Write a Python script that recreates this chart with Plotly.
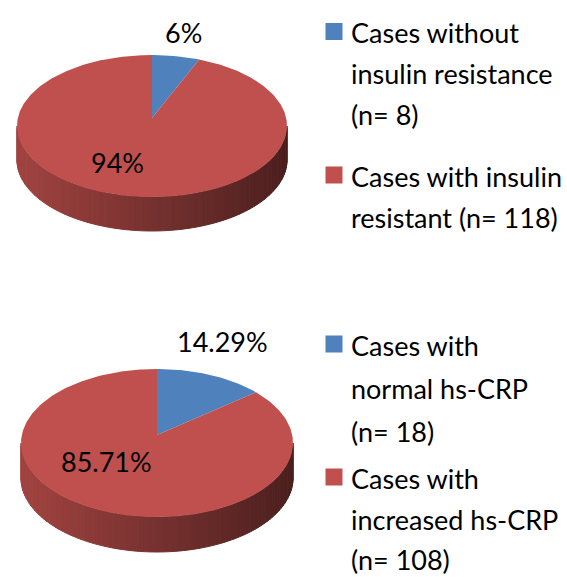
import math
import cmath
import plotly.graph_objects as go

# ---------------- data ----------------
top_values = [8, 118]
top_legend = [["Cases without", "insulin resistance", "(n= 8)"],
              ["Cases with insulin", "resistant (n= 118)"]]
bottom_values = [18, 108]
bottom_legend = [["Cases with", "normal hs-CRP", "(n= 18)"],
                 ["Cases with", "increased hs-CRP", "(n= 108)"]]
slice_colors = ["#4F81BD", "#C0504D"]

FONT = "Lato"
FSIZE = 27

# ---------------- layout geometry (pixels) ----------------
pies = [
    dict(values=top_values, legend=top_legend, fmt="{:.0f}%",
         cx=152, cy=126, rx=135, ry=71, depth=34, persp=0.112,
         label_pos=[(183, 32), (117, 162)],
         legend_sq_y=[31.5, 175], legend_line_y=[[32, 73, 114], [176, 217]]),
    dict(values=bottom_values, legend=bottom_legend, fmt="{:.2f}%",
         cx=157, cy=443, rx=136, ry=74, depth=35, persp=0.108,
         label_pos=[(222, 341), (106, 461)],
         legend_sq_y=[344, 477], legend_line_y=[[345, 388, 431], [478, 519, 559]]),
]
LEG_SQ_X = 334
LEG_TX_X = 349


def persp_map(theta, e, inverse=False):
    """true angle (clockwise from back) -> parametric ellipse angle, via a projective
    (Klein-disc) shift of the circle centre towards the back by e."""
    p = e / (1 + math.sqrt(1 - e * e))
    a = 1j * p * (-1 if inverse else 1)
    z = cmath.exp(1j * (math.pi / 2 - theta))
    w = (z + a) / (1 + a.conjugate() * z)
    return math.pi / 2 - cmath.phase(w)


def shade(hexcol, f):
    r, g, b = int(hexcol[1:3], 16), int(hexcol[3:5], 16), int(hexcol[5:7], 16)
    return "rgb(%d,%d,%d)" % (round(r * f), round(g * f), round(b * f))


fig = go.Figure()
annotations = []

for pie in pies:
    vals = pie["values"]
    total = sum(vals)
    cx, cy, rx, ry, d, e = pie["cx"], pie["cy"], pie["rx"], pie["ry"], pie["depth"], pie["persp"]
    bounds = [0.0]
    for v in vals:
        bounds.append(bounds[-1] + 2 * math.pi * v / total)

    def slice_of(theta):
        theta = theta % (2 * math.pi)
        for k in range(len(vals)):
            if bounds[k] <= theta < bounds[k + 1]:
                return k
        return len(vals) - 1

    # ---- side wall (front half), drawn in strips ----
    nstrip = 90
    phis = [math.pi / 2 + math.pi * i / nstrip for i in range(nstrip + 1)]
    for i in range(nstrip):
        p1, p2 = phis[i], phis[i + 1]
        sub = [p1 + (p2 - p1) * j / 3 for j in range(4)]
        xs_top = [cx + rx * math.sin(s) for s in sub]
        ys_top = [cy - ry * math.cos(s) for s in sub]
        xs = xs_top + xs_top[::-1] + [xs_top[0]]
        ys = ys_top + [y + d for y in ys_top[::-1]] + [ys_top[0]]
        mid = (p1 + p2) / 2
        k = slice_of(persp_map(mid, e, inverse=True))
        t = ((cx + rx * math.sin(mid)) - (cx - rx)) / (2 * rx)
        col = shade(slice_colors[k], 0.84 - 0.45 * t)
        fig.add_trace(go.Scatter(x=xs, y=ys, mode="lines", fill="toself",
                                 fillcolor=col, line=dict(color=col, width=1),
                                 hoverinfo="skip", showlegend=False))

    # ---- top face slices ----
    vx, vy = cx, cy - e * ry
    for k, v in enumerate(vals):
        a0, a1 = bounds[k], bounds[k + 1]
        n = max(4, int(math.degrees(a1 - a0)))
        xs, ys = [vx], [vy]
        for j in range(n + 1):
            phi = persp_map(a0 + (a1 - a0) * j / n, e)
            xs.append(cx + rx * math.sin(phi))
            ys.append(cy - ry * math.cos(phi))
        xs.append(vx)
        ys.append(vy)
        fig.add_trace(go.Scatter(x=xs, y=ys, mode="lines", fill="toself",
                                 fillcolor=slice_colors[k], line=dict(width=0),
                                 name=" ".join(pie["legend"][k]),
                                 hoverinfo="name", showlegend=False))
        lx, ly = pie["label_pos"][k]
        annotations.append(dict(x=lx, y=ly, text=pie["fmt"].format(100 * v / total),
                                showarrow=False, xanchor="center", yanchor="middle",
                                font=dict(family=FONT, size=FSIZE, color="black")))

    # ---- legend ----
    fig.add_trace(go.Scatter(x=[LEG_SQ_X] * len(vals), y=pie["legend_sq_y"], mode="markers",
                             marker=dict(symbol="square", size=17, color=slice_colors,
                                         line=dict(width=0)),
                             hoverinfo="skip", showlegend=False))
    for k, lines in enumerate(pie["legend"]):
        for line, ly in zip(lines, pie["legend_line_y"][k]):
            annotations.append(dict(x=LEG_TX_X, y=ly, text=line, showarrow=False,
                                    xanchor="left", yanchor="middle",
                                    font=dict(family=FONT, size=FSIZE, color="black")))

fig.update_layout(
    width=567, height=577,
    margin=dict(l=0, r=0, t=0, b=0),
    paper_bgcolor="white", plot_bgcolor="white",
    xaxis=dict(range=[0, 567], visible=False, fixedrange=True),
    yaxis=dict(range=[577, 0], visible=False, fixedrange=True),
    annotations=annotations,
    showlegend=False,
)

fig.write_html("out.html", config={"displayModeBar": False},
               post_script="document.body.style.margin='0';")
